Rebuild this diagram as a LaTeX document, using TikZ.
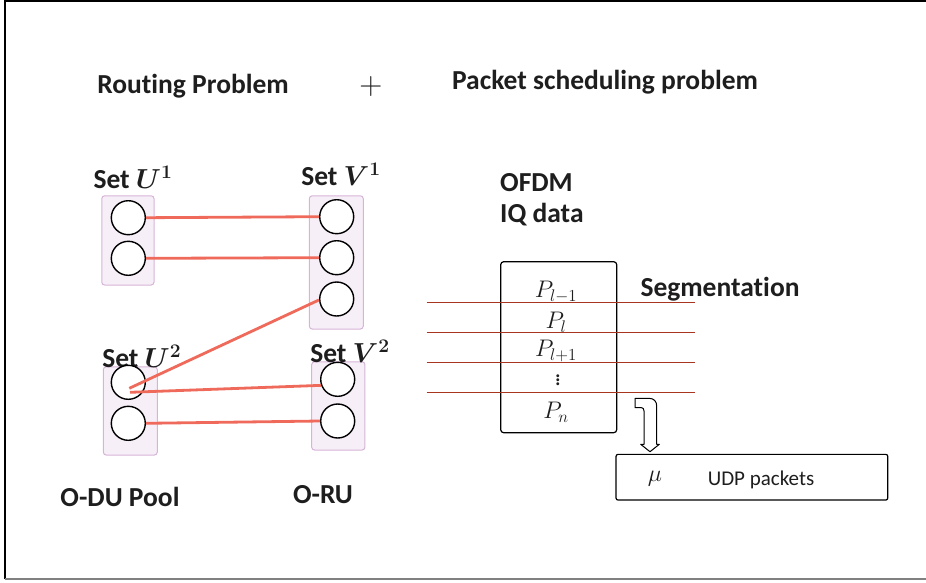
\RequirePackage{fix-cm}
\documentclass[tikz,border=0pt]{standalone}
\usepackage{amsmath}
\usepackage{bm}
\usepackage{fontspec}
\setmainfont{Carlito}[Ligatures=NoCommon]
\usetikzlibrary{calc}
\definecolor{boxfill}{HTML}{F7EFF7}
\definecolor{boxborder}{HTML}{D6B4D8}
\definecolor{linkred}{HTML}{EF6A5A}
\definecolor{segred}{HTML}{A8351F}
\definecolor{ink}{HTML}{1E1E1E}
\begin{document}
\begin{tikzpicture}[x=1pt,y=-1pt,
  setbox/.style={draw=boxborder, fill=boxfill, rounded corners=3pt, line width=1pt, inner sep=0pt},
  vert/.style={circle, draw=black, line width=1.4pt, minimum size=34pt, inner sep=0pt, fill=white},
  link/.style={draw=linkred, line width=2.8pt},
  seg/.style={draw=segred, line width=1.2pt},
  title/.style={font=\fontsize{27.5}{33}\selectfont\bfseries, text=ink, inner sep=0pt},
  plabel/.style={font=\fontsize{24}{28}\selectfont, text=ink, inner sep=0pt},
  plain/.style={font=\fontsize{21}{25}\selectfont, text=ink, inner sep=0pt}]
\useasboundingbox (0,0) rectangle (926,582);
% frame
\draw[black, line width=1.5pt] (5,579) -- (5,1) -- (926,1);
\draw[gray, line width=2pt] (5,579) -- (926,579);

% titles
\node[title] (t1) at (193,86) {Routing Problem};
\node[font=\fontsize{32}{36}\selectfont, text=ink, inner sep=0pt] (plus) at (371,86) {$+$};
\node[title] (t2) at (605,82) {Packet scheduling problem};

% set boxes
\node[setbox, minimum width=52.3pt, minimum height=89.3pt] (U1) at (127.9,240.4) {};
\node[setbox, minimum width=54pt, minimum height=133.3pt] (V1) at (336.3,262.4) {};
\node[setbox, minimum width=54pt, minimum height=88.3pt] (U2) at (130.3,410.9) {};
\node[setbox, minimum width=53.3pt, minimum height=88.3pt] (V2) at (338.3,405.9) {};

% set labels
\node[title] (lU1) at (133,177) {Set $\bm{U^1}$};
\node[title] (lV1) at (341,174) {Set $\bm{V^1}$};
\node[title] (lU2) at (141.7,356.7) {Set $\bm{U^2}$};
\node[title] (lV2) at (350,351.7) {Set $\bm{V^2}$};

% vertices
\node[vert] (u11) at (128.3,217.7) {};
\node[vert] (u12) at (128.3,258.3) {};
\node[vert] (v11) at (336.7,216.7) {};
\node[vert] (v12) at (336.7,257.7) {};
\node[vert] (v13) at (336.7,299) {};
\node[vert] (u21) at (128.3,382.3) {};
\node[vert] (u22) at (128.3,423.3) {};
\node[vert] (v21) at (337.7,379.3) {};
\node[vert] (v22) at (337.7,421) {};

% links
\draw[link] (u11.east) -- (v11.west);
\draw[link] (u12.east) -- (v12.west);
\draw[link] (v13.183) -- ($(u21.center)+(1,6)$);
\draw[link] ($(u21.center)+(1.7,10)$) -- (v21.200);
\draw[link] (u22.east) -- (v22.west);

% bottom labels
\node[title] (odu) at (120,497) {O-DU Pool};
\node[title] (oru) at (323,495) {O-RU};

% OFDM
\node[title, anchor=west] (ofdm) at (500,183) {OFDM};
\node[title, anchor=west] (iq) at (500,215) {IQ data};

% packet box
\node[draw=black, line width=1.2pt, rounded corners=3pt, minimum width=116pt, minimum height=171pt, inner sep=0pt] (pk) at (558.7,347.2) {};
\foreach \yy in {302.7,332.7,362.3,392.7}{
  \draw[seg] (426.7,\yy) -- (695,\yy);
}
\node[plabel] (p1) at (556,292) {$P_{l-1}$};
\node[plabel] (p2) at (556,322) {$P_{l}$};
\node[plabel] (p3) at (556,351) {$P_{l+1}$};
\node[plabel] (p4) at (558,377) {$\vdots$};
\node[plabel] (p5) at (556,412) {$P_{n}$};

\node[title] (segm) at (720,289) {Segmentation};

% hollow bent arrow
\draw[black, line width=1pt, fill=white, line join=round]
  (635,398.3) -- (649,398.3) .. controls (654,398.3) and (656.7,401.5) .. (656.7,406)
  -- (656.7,444.3) -- (659.3,444.3) -- (650,451.7) -- (640.7,444.3) -- (644,444.3)
  -- (644,411) .. controls (644,408.8) and (643,407.5) .. (641,407.5) -- (635,407.5) -- cycle;

% UDP box
\node[draw=black, line width=1.2pt, rounded corners=2pt, minimum width=271.7pt, minimum height=45.7pt, inner sep=0pt] (udp) at (751.9,477.2) {};
\node[plabel] (mu) at (655,478.3) {$\mu$};
\node[plain] (udpt) at (761,480) {UDP packets};
\end{tikzpicture}
\end{document}
